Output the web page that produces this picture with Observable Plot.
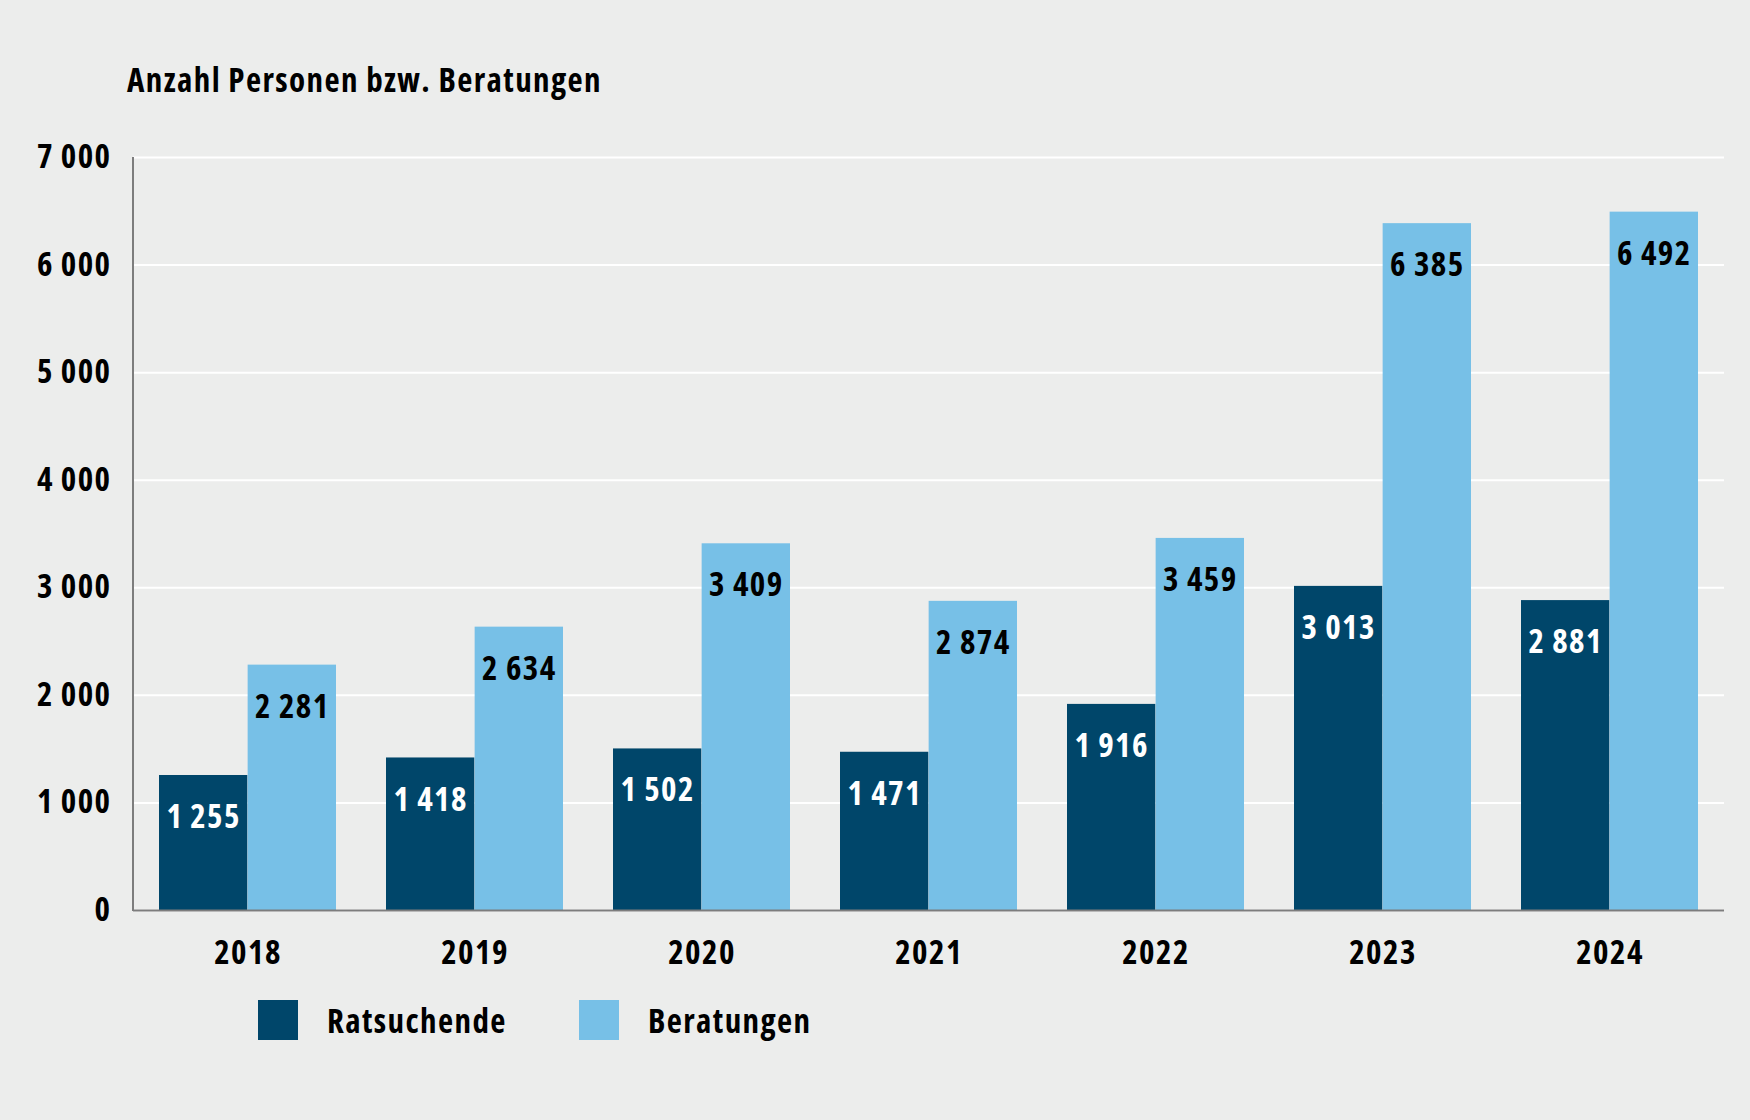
<!DOCTYPE html>
<html><head><meta charset="utf-8">
<script src="https://cdn.jsdelivr.net/npm/d3@7"></script>
<script src="https://cdn.jsdelivr.net/npm/@observablehq/plot@0.6"></script>
<style>
html,body{margin:0;padding:0;background:#ecedec;}
#wrap{position:relative;width:1750px;height:1120px;background:#ecedec;overflow:hidden;
  font-family:"Open Sans","DejaVu Sans Condensed",sans-serif;font-stretch:75%;font-weight:bold;color:#000;letter-spacing:1.4px;}
#title{position:absolute;left:127px;top:60px;font-size:33px;line-height:40px;white-space:nowrap;}
#chart{position:absolute;left:0;top:0;}
.item{position:absolute;top:1000px;height:40px;display:flex;align-items:center;font-size:33px;white-space:nowrap;}
.sw{width:40px;height:40px;display:inline-block;}
.lab{margin-left:29px;}
#chart svg text{font-stretch:75%;letter-spacing:1.4px;}
</style></head>
<body><div id="wrap"><div id="chart"></div><div id="title"></div><div id="legend"></div></div>
<script>
const titleText = "Anzahl Personen bzw. Beratungen";
const years = ["2018","2019","2020","2021","2022","2023","2024"];
const ratsuchende = [1255,1418,1502,1471,1916,3013,2881];
const beratungen = [2281,2634,3409,2874,3459,6385,6492];
const yTicks = [0,1000,2000,3000,4000,5000,6000,7000];
const seriesNames = ["Ratsuchende","Beratungen"];
const seriesColors = ["#00466a","#77c0e7"];

const loc = d3.formatLocale({decimal:",", thousands:"\u2009", grouping:[3], currency:["","\u20ac"]});
const fmt = loc.format(",d");

const W = 1750, H = 1000, mL = 133, mR = 26, mT = 157, mB = 90;
const pInner = 0.22, pOuter = 0.11;
const step = (W - mL - mR) / (years.length - pInner + 2 * pOuter);
const half = step * (1 - pInner) / 2;

const rows = years.map((y, i) => ({year: y, r: ratsuchende[i], b: beratungen[i]}));

document.getElementById("title").textContent = titleText;

const font = '"Open Sans","DejaVu Sans Condensed",sans-serif';

const plot = Plot.plot({
  width: W, height: H,
  marginLeft: mL, marginRight: mR, marginTop: mT, marginBottom: mB,
  style: {background: "transparent", fontFamily: font, fontSize: "33px", fontWeight: "bold", fontStretch: "75%", color: "#000"},
  x: {type: "band", domain: years, paddingInner: pInner, paddingOuter: pOuter, label: null},
  y: {domain: [0, 7000], label: null},
  marks: [
    Plot.gridY(yTicks, {stroke: "#ffffff", strokeOpacity: 1, strokeWidth: 2}),
    Plot.barY(rows, {x: "year", y: "r", fill: seriesColors[0], insetRight: half}),
    Plot.barY(rows, {x: "year", y: "b", fill: seriesColors[1], insetLeft: half}),
    Plot.text(rows, {x: "year", y: "r", text: d => fmt(d.r), dx: -half / 2, dy: 42, fill: "#ffffff", fontSize: 33, fontWeight: "bold"}),
    Plot.text(rows, {x: "year", y: "b", text: d => fmt(d.b), dx: half / 2, dy: 42, fill: "#000000", fontSize: 33, fontWeight: "bold"}),
    Plot.ruleY([0], {stroke: "#7d7d7d", strokeWidth: 2}),
    (index, scales, values, dims) => {
      const ns = "http://www.w3.org/2000/svg";
      const line = document.createElementNS(ns, "line");
      line.setAttribute("x1", dims.marginLeft);
      line.setAttribute("x2", dims.marginLeft);
      line.setAttribute("y1", scales.y(yTicks[0]) + 1);
      line.setAttribute("y2", scales.y(yTicks[yTicks.length - 1]));
      line.setAttribute("stroke", "#7d7d7d");
      line.setAttribute("stroke-width", 2);
      return line;
    },
    Plot.axisY(yTicks, {tickSize: 0, tickPadding: 22, tickFormat: fmt, fontSize: 33, fontWeight: "bold", label: null}),
    Plot.axisX({tickSize: 0, tickPadding: 30, fontSize: 33, fontWeight: "bold", label: null})
  ]
});
document.getElementById("chart").appendChild(plot);

const leg = document.getElementById("legend");
const legendLeft = [258, 579];
seriesNames.forEach((n, i) => {
  const it = document.createElement("div"); it.className = "item"; it.style.left = legendLeft[i] + "px";
  const s = document.createElement("span"); s.className = "sw"; s.style.background = seriesColors[i];
  const t = document.createElement("span"); t.className = "lab"; t.textContent = n;
  it.appendChild(s); it.appendChild(t); leg.appendChild(it);
});
</script></body></html>
